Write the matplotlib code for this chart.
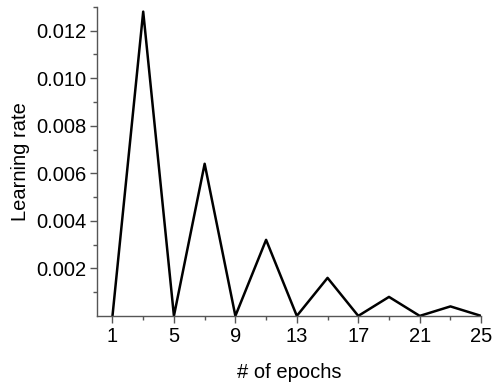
import matplotlib
matplotlib.use("Agg")
import matplotlib.pyplot as plt
from matplotlib.ticker import MultipleLocator, FixedLocator

epochs = [1, 3, 5, 7, 9, 11, 13, 15, 17, 19, 21, 23, 25]
lr = [0.0, 0.0128, 0.0, 0.0064, 0.0, 0.0032, 0.0, 0.0016, 0.0, 0.0008, 0.0, 0.0004, 0.0]
xticks = [1, 5, 9, 13, 17, 21, 25]
yticks = [0.002, 0.004, 0.006, 0.008, 0.010, 0.012]

plt.rcParams['font.family'] = ['Liberation Sans', 'DejaVu Sans']
fig = plt.figure(figsize=(4.93, 3.82), dpi=100)
ax = fig.add_axes([0.197, 0.173, 0.779, 0.809])
ax.plot(epochs, lr, color='black', lw=1.8)
ax.set_xlim(0, 25)
ax.set_ylim(0, 0.013)
ax.set_xticks(xticks)
ax.xaxis.set_minor_locator(FixedLocator([3, 7, 11, 15, 19, 23]))
ax.set_yticks(yticks)
ax.set_yticklabels([f"{v:.3f}" for v in yticks])
ax.yaxis.set_minor_locator(FixedLocator([0.001, 0.003, 0.005, 0.007, 0.009, 0.011, 0.013]))
for s in ['top', 'right']:
    ax.spines[s].set_visible(False)
for s in ['left', 'bottom']:
    ax.spines[s].set_color('#555555')
    ax.spines[s].set_linewidth(1.0)
ax.tick_params(which='major', length=5, width=1, color='#555555', labelsize=14.5, direction='out', pad=3)
ax.tick_params(which='minor', length=3, width=1, color='#555555', direction='out')
ax.set_xlabel('# of epochs', fontsize=14.5, labelpad=12)
ax.set_ylabel('Learning rate', fontsize=14.5, labelpad=4)
fig.savefig('out.png', dpi=100)
